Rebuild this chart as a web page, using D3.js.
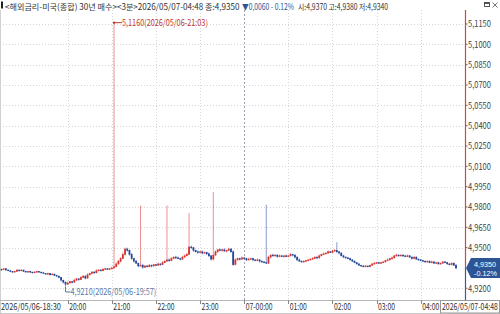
<!DOCTYPE html>
<html><head><meta charset="utf-8">
<script src="https://cdn.jsdelivr.net/npm/d3@7"></script>
<style>
html,body{margin:0;padding:0;background:#fff;overflow:hidden}
svg{display:block;font-family:"Noto Sans CJK KR","Noto Sans",sans-serif}
</style></head><body>
<script>
// ---- data ----
const startTime = "2026/05/06-18:30";
const endTime = "2026/05/07-04:48";
const firstOpen = 4.9340;
const tickSize = 0.0005;
const closes = [
4.9340,4.9345,4.9335,4.9330,4.9325,4.9320,4.9325,4.9335,4.9330,4.9335,
4.9325,4.9320,4.9325,4.9320,4.9315,4.9320,4.9325,4.9320,4.9315,4.9310,
4.9305,4.9310,4.9300,4.9305,4.9295,4.9290,4.9280,4.9260,4.9245,4.9230,
4.9240,4.9250,4.9245,4.9260,4.9270,4.9265,4.9280,4.9290,4.9275,4.9300,
4.9310,4.9320,4.9315,4.9330,4.9335,4.9330,4.9340,4.9345,4.9340,4.9345,
4.9350,4.9360,4.9380,4.9400,4.9420,4.9450,4.9490,4.9480,4.9450,4.9420,
4.9400,4.9385,4.9365,4.9370,4.9355,4.9365,4.9360,4.9370,4.9365,4.9375,
4.9370,4.9380,4.9375,4.9390,4.9400,4.9410,4.9405,4.9420,4.9430,4.9425,
4.9420,4.9415,4.9430,4.9440,4.9450,4.9505,4.9500,4.9480,4.9470,4.9465,
4.9470,4.9460,4.9465,4.9455,4.9440,4.9415,4.9445,4.9470,4.9485,4.9480,
4.9485,4.9475,4.9480,4.9490,4.9470,4.9375,4.9410,4.9420,4.9415,4.9425,
4.9420,4.9410,4.9415,4.9420,4.9410,4.9405,4.9410,4.9400,4.9395,4.9390,
4.9385,4.9430,4.9445,4.9440,4.9445,4.9435,4.9440,4.9435,4.9440,4.9435,
4.9440,4.9450,4.9445,4.9430,4.9410,4.9400,4.9395,4.9400,4.9405,4.9410,
4.9415,4.9420,4.9430,4.9425,4.9440,4.9450,4.9455,4.9460,4.9470,4.9465,
4.9475,4.9480,4.9470,4.9460,4.9440,4.9430,4.9425,4.9420,4.9410,4.9400,
4.9390,4.9380,4.9370,4.9365,4.9360,4.9365,4.9360,4.9370,4.9380,4.9385,
4.9390,4.9385,4.9390,4.9395,4.9405,4.9410,4.9420,4.9425,4.9440,4.9445,
4.9440,4.9445,4.9440,4.9435,4.9440,4.9430,4.9420,4.9430,4.9415,4.9410,
4.9405,4.9400,4.9395,4.9400,4.9390,4.9395,4.9385,4.9390,4.9380,4.9385,
4.9395,4.9390,4.9380,4.9375,4.9385,4.9370,4.9350
];
// wick sizes above/below the body, in price ticks
const upperWick = [
1,0,1,0,1,0,1,1,0,1, 0,1,0,1,0,1,1,0,0,1,
0,1,0,1,0,1,0,1,0,1, 2,1,1,2,1,1,2,1,1,2,
1,1,1,2,1,1,2,1,1,1, 2,0,2,2,2,3,2,2,1,2,
1,2,1,0,2,1,1,2,1,1, 1,2,1,2,1,0,2,2,1,2,
2,1,2,2,2,0,2,1,1,2, 1,2,1,1,2,1,0,2,1,2,
1,2,1,2,1,2,2,1,1,2, 1,1,2,1,1,1,2,1,1,1,
0,2,1,2,1,1,2,1,1,2, 1,2,1,1,1,2,1,1,1,1,
1,2,1,1,2,1,2,1,2,1, 2,2,0,1,1,1,1,1,1,1,
1,1,1,0,1,1,0,1,1,2, 1,1,1,1,1,2,1,2,1,2,
1,1,1,1,2,1,1,1,1,1, 1,1,1,1,1,2,1,1,1,1,
1,1,1,1,1,1,2
];
const lowerWick = [
0,1,1,0,1,1,0,1,1,0, 1,0,1,1,1,0,1,1,1,0,
1,1,1,0,1,1,1,2,2,0, 1,1,2,1,1,2,1,1,2,1,
1,1,2,1,1,1,1,1,1,1, 1,1,1,1,2,1,2,2,2,2,
2,1,2,1,2,1,1,1,2,1, 1,1,2,1,1,1,2,1,1,2,
1,2,1,1,1,1,2,2,1,2, 1,2,1,2,2,2,2,1,2,1,
2,1,2,1,2,2,1,1,2,1, 1,2,1,1,2,1,1,2,1,1,
1,1,2,1,1,2,1,1,2,1, 1,1,2,2,2,1,1,1,1,1,
1,1,1,2,1,1,1,1,1,1, 1,1,2,2,1,1,1,1,1,1,
1,1,1,1,1,1,1,1,1,1, 1,1,1,1,1,1,1,2,1,1,
1,1,2,1,1,1,2,1,1,1, 1,1,1,1,1,1,1,1,1,1,
1,1,1,1,1,1,2
];
// notable extremes: [bar index, value]
const spikeHighs = [[51,5.1160],[63,4.9811],[75,4.9811],[85,4.9755],[96,4.9910],[120,4.9816],[152,4.9540]];
const spikeLows = [[29,4.9210]];
const yTicks = [5.1150,5.1000,5.0850,5.0700,5.0550,5.0400,5.0250,5.0100,4.9950,4.9800,4.9650,4.9500,4.9200];
const hourLabels = ["20:00","21:00","22:00","23:00","07-00:00","01:00","02:00","03:00","04:00"];
const hourIndex = [30,50,70,90,110,130,150,170,190];
const titleMain = "<해외금리-미국(종합) 30년 매수><3분>2026/05/07-04:48 종:4,9350";
const titleChg = "▼0,0060 - 0.12%";
const titleRest = "시:4,9370 고:4,9380 저:4,9340";
const highNote = "5,1160(2026/05/06-21:03)";
const lowNote = "4,9210(2026/05/06-19:57)";
const lastPrice = 4.9350, lastPct = "-0.12%";

// ---- build bars ----
const bars = closes.map((c,i)=>{
  const o = i===0 ? firstOpen : closes[i-1];
  return {i, o, c, h: Math.max(o,c)+upperWick[i]*tickSize, l: Math.min(o,c)-lowerWick[i]*tickSize};
});
spikeHighs.forEach(([i,v])=>bars[i].h=v);
spikeLows.forEach(([i,v])=>bars[i].l=v);

const W=500,H=314, plotL=0, plotR=465, plotT=10, plotB=300;
const svg=d3.select("body").append("svg").attr("width",W).attr("height",H);
const x=d3.scaleLinear().domain([0,206]).range([1.5,456]);
const y=d3.scaleLinear().domain([4.92,5.115]).range([288.3,24]);
const fmt=v=>d3.format(".4f")(v).replace(".",",");
const RED="#d8322e", BLUE="#22479a";
const LAT="'Liberation Sans',Arial,sans-serif";
// place a text at (px,py) squeezed horizontally to width w
function label(parent, str, px, py, w, size, color, family){
  const t=parent.append("text").attr("x",0).attr("y",0).attr("font-size",size).attr("fill",color).text(str);
  if(family) t.attr("font-family",family);
  const nat=t.node().getComputedTextLength();
  const s=Math.min(1,w/nat);
  t.attr("transform",`translate(${px},${py}) scale(${s},1)`);
  return t;
}

// frame
svg.append("line").attr("x1",0.5).attr("x2",0.5).attr("y1",plotT).attr("y2",H).attr("stroke","#d0d0d0");
svg.append("line").attr("x1",0).attr("x2",W).attr("y1",H-0.5).attr("y2",H-0.5).attr("stroke","#c8c8c8");

// grid
const g=svg.append("g");
g.selectAll(".hg").data(yTicks).join("line")
  .attr("x1",plotL).attr("x2",plotR).attr("y1",d=>Math.round(y(d))+0.5).attr("y2",d=>Math.round(y(d))+0.5)
  .attr("stroke","#d6d6d6").attr("stroke-dasharray","1,2");
g.selectAll(".vg").data(hourIndex).join("line")
  .attr("x1",d=>Math.round(x(d))+0.5).attr("x2",d=>Math.round(x(d))+0.5).attr("y1",plotT).attr("y2",plotB)
  .attr("stroke",(d,k)=>k===4?"#9aa2b4":"#d6d6d6").attr("stroke-dasharray",(d,k)=>k===4?"2,2":"1,2");

// x axis line
svg.append("line").attr("x1",0).attr("x2",W).attr("y1",plotB+0.5).attr("y2",plotB+0.5).attr("stroke","#b8b8b8");

// candles
const cg=svg.append("g");
const col=d=>d.c>d.o?RED:(d.c<d.o?BLUE:"#444");
cg.selectAll("line").data(bars).join("line")
  .attr("x1",d=>x(d.i)).attr("x2",d=>x(d.i)).attr("y1",d=>y(d.h)).attr("y2",d=>y(d.l))
  .attr("stroke",d=>col(d)).attr("stroke-width",0.9).attr("stroke-opacity",0.6);
cg.selectAll("rect").data(bars).join("rect")
  .attr("x",d=>x(d.i)-0.9).attr("width",1.8)
  .attr("y",d=>y(Math.max(d.o,d.c))-0.3).attr("height",d=>Math.max(1.4,y(Math.min(d.o,d.c))-y(Math.max(d.o,d.c))+0.6))
  .attr("fill",d=>col(d));

// right axis
const yp=y(lastPrice);
svg.append("line").attr("x1",plotR+0.5).attr("x2",plotR+0.5).attr("y1",plotT).attr("y2",yp).attr("stroke","#d04a3c").attr("stroke-width",1.2);
svg.append("line").attr("x1",plotR+0.5).attr("x2",plotR+0.5).attr("y1",yp).attr("y2",plotB).attr("stroke","#3a5a9a").attr("stroke-width",1.2);
const ax=svg.append("g");
ax.selectAll("line").data(yTicks).join("line")
  .attr("x1",plotR).attr("x2",plotR+2.5).attr("y1",d=>y(d)).attr("y2",d=>y(d)).attr("stroke","#666");
yTicks.forEach(v=>label(ax, fmt(v), plotR+3, y(v)+3.2, 23, 9, "#444"));

// last price tag
svg.append("path").attr("d",`M${plotR+1},${yp} L${plotR+6},${yp-10} L${W},${yp-10} L${W},${yp+10} L${plotR+6},${yp+10} Z`)
  .attr("fill","#2d5596");
label(svg, fmt(lastPrice), plotR+9, yp-1.2, 22, 8, "#fff", LAT);
label(svg, lastPct, plotR+9, yp+8, 23, 8, "#fff", LAT);

// x axis labels
const xl=svg.append("g");
label(xl, startTime, 1, 309.5, 60, 9, "#333");
xl.selectAll(".tk").data(hourIndex).join("line")
  .attr("x1",d=>Math.round(x(d))+0.5).attr("x2",d=>Math.round(x(d))+0.5).attr("y1",plotB).attr("y2",plotB+4).attr("stroke","#888");
hourLabels.forEach((s,k)=>label(xl, s, x(hourIndex[k])+1.5, 309.5, s.length>5?27:17, 9, "#333"));
svg.append("rect").attr("x",440.5).attr("y",plotB+0.5).attr("width",59).attr("height",H-plotB-1.5).attr("fill","#fff").attr("stroke","#999");
label(svg, endTime, 442, 309.5, 56, 9, "#333");

// annotations
const hb=bars[spikeHighs[0][0]];
svg.append("circle").attr("cx",x(hb.i)).attr("cy",y(hb.h)).attr("r",1.2).attr("fill","#c0392b");
svg.append("line").attr("x1",x(hb.i)).attr("x2",x(hb.i)+8).attr("y1",y(hb.h)).attr("y2",y(hb.h)).attr("stroke","#c0392b");
label(svg, highNote, x(hb.i)+8, y(hb.h)+3.2, 86, 9, "#c0392b");
const lb=bars[spikeLows[0][0]];
svg.append("path").attr("d",`M${x(lb.i)},${y(lb.l)} V${y(lb.l)+5} H${x(lb.i)+5}`).attr("fill","none").attr("stroke","#5a78a8");
label(svg, lowNote, x(lb.i)+5, y(lb.l)+8.2, 86, 9, "#5a78a8");

// title
svg.append("rect").attr("x",1).attr("y",1.5).attr("width",2).attr("height",7).attr("fill","#222");
label(svg, titleMain, 5, 9.6, 234, 8.4, "#333");
label(svg, titleChg, 242, 9.6, 52, 8.4, "#2d5596");
label(svg, titleRest, 298, 9.6, 90, 8.4, "#333");
// window icons
svg.append("rect").attr("x",484.5).attr("y",2.5).attr("width",5).attr("height",4).attr("fill","none").attr("stroke","#555");
svg.append("rect").attr("x",484.5).attr("y",2.5).attr("width",5).attr("height",1.5).attr("fill","#555");
svg.append("path").attr("d","M492.5,2.5 L497.5,7.5 M497.5,2.5 L492.5,7.5").attr("stroke","#777");
</script>
</body></html>
